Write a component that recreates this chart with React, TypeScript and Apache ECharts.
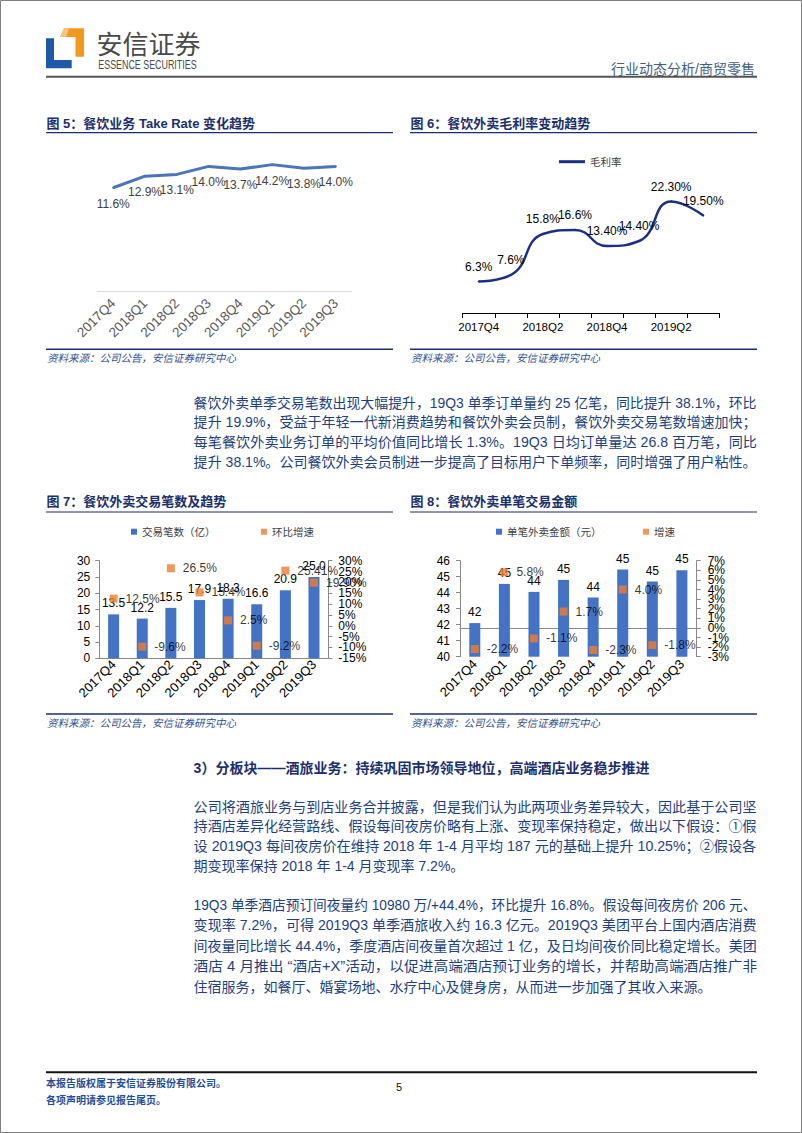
import React, { useEffect, useRef } from "react";
import * as echarts from "echarts";

// ---------- data ----------
const quarters = ["2017Q4", "2018Q1", "2018Q2", "2018Q3", "2018Q4", "2019Q1", "2019Q2", "2019Q3"];
const takeRate = [11.6, 12.9, 13.1, 14.0, 13.7, 14.2, 13.8, 14.0];
const grossMargin = [6.3, 7.6, 15.8, 16.6, 13.4, 14.4, 22.3, 19.5];
const grossMarginLabels = ["6.3%", "7.6%", "15.8%", "16.6%", "13.40%", "14.40%", "22.30%", "19.50%"];
const orders = [13.5, 12.2, 15.5, 17.9, 18.3, 16.6, 20.9, 25.0];
const ordersQoQ = [12.5, -9.6, 26.5, 15.4, 2.5, -9.2, 25.41, 19.9];
const ordersQoQLabels = ["12.5%", "-9.6%", "26.5%", "15.4%", "2.5%", "-9.2%", "25.41%", "19.90%"];
const ticket = [42.1, 44.55, 44.05, 44.8, 43.7, 45.45, 44.7, 45.4];
const ticketGrowth = [-2.2, 5.8, -1.1, 1.7, -2.3, 4.0, -1.8, null];
// right-axis tick labels (bottom to top)
const qoqTicks = ["-15%", "-10%", "-5%", "0%", "5%", "10%", "15%", "20%", "25%", "30%"];
const growthTicks = ["-3%", "-2%", "-1%", "0%", "1%", "2%", "3%", "4%", "5%", "6%", "7%"];

// ---------- texts ----------
const para1 = [
  "餐饮外卖单季交易笔数出现大幅提升，19Q3 单季订单量约 25 亿笔，同比提升 38.1%，环比",
  "提升 19.9%，受益于年轻一代新消费趋势和餐饮外卖会员制，餐饮外卖交易笔数增速加快；",
  "每笔餐饮外卖业务订单的平均价值同比增长 1.3%。19Q3 日均订单量达 26.8 百万笔，同比",
  "提升 38.1%。公司餐饮外卖会员制进一步提高了目标用户下单频率，同时增强了用户粘性。",
];
const heading3 = "3）分板块——酒旅业务：持续巩固市场领导地位，高端酒店业务稳步推进";
const para2 = [
  "公司将酒旅业务与到店业务合并披露，但是我们认为此两项业务差异较大，因此基于公司坚",
  "持酒店差异化经营路线、假设每间夜房价略有上涨、变现率保持稳定，做出以下假设：①假",
  "设 2019Q3 每间夜房价在维持 2018 年 1-4 月平均 187 元的基础上提升 10.25%；②假设各",
  "期变现率保持 2018 年 1-4 月变现率 7.2%。",
];
const para3 = [
  "19Q3 单季酒店预订间夜量约 10980 万/+44.4%，环比提升 16.8%。假设每间夜房价 206 元、",
  "变现率 7.2%，可得 2019Q3 单季酒旅收入约 16.3 亿元。2019Q3 美团平台上国内酒店消费",
  "间夜量同比增长 44.4%，季度酒店间夜量首次超过 1 亿，及日均间夜价同比稳定增长。美团",
  "酒店 4 月推出 “酒店+X”活动，以促进高端酒店预订业务的增长，并帮助高端酒店推广非",
  "住宿服务，如餐厅、婚宴场地、水疗中心及健身房，从而进一步加强了其收入来源。",
];

const FONT = "'Liberation Sans', 'Noto Sans CJK SC', sans-serif";
const NAVY = "#1b2f6b";
const BODY = "#223f7c";
const BLUE_BAR = "#4472c4";
const ORANGE = "#ed7d31";
const SOURCE = "资料来源：公司公告，安信证券研究中心";

export default function App() {
  const ref = useRef<HTMLDivElement>(null);

  useEffect(() => {
    document.body.style.margin = "0";
    const chart = echarts.init(ref.current!, null, { renderer: "svg" });
    const ctx = document.createElement("canvas").getContext("2d")!;
    const measure = (t: string, size: number, weight = "normal") => {
      ctx.font = `${weight} ${size}px ${FONT}`;
      return ctx.measureText(t).width;
    };

    const txt = (
      text: string,
      x: number,
      y: number,
      size: number,
      fill: string,
      opts: any = {}
    ) => ({
      type: "text",
      x,
      y,
      scaleX: opts.scaleX ?? 1,
      z: 10,
      style: {
        text,
        fontSize: size,
        fontFamily: opts.family ?? FONT,
        fontWeight: opts.weight ?? "normal",
        fontStyle: opts.italic ? "italic" : "normal",
        fill,
        align: opts.align ?? "left",
        textAlign: opts.align ?? "left",
        verticalAlign: "middle",
        textVerticalAlign: "middle",
      },
    });
    const hline = (x1: number, x2: number, y: number, stroke: string, w: number) => ({
      type: "line",
      shape: { x1, y1: y, x2, y2: y },
      style: { stroke, lineWidth: w },
    });

    const TEXT_L = 193.6;
    const TEXT_R = 757;
    const paraLines = (lines: string[], y0: number, step: number, justifyLast: boolean) =>
      lines.map((t, i) => {
        const last = i === lines.length - 1;
        const w = measure(t, 14);
        const sx = !last || justifyLast ? (TEXT_R - TEXT_L) / w : Math.min(1, (TEXT_R - TEXT_L) / w);
        return txt(t, TEXT_L, y0 + i * step, 14, BODY, { scaleX: sx });
      });

    const esW = measure("ESSENCE SECURITIES", 12);

    const graphic: any[] = [
      // page border
      {
        type: "rect",
        shape: { x: 0.5, y: 0.5, width: 801, height: 1132 },
        style: { fill: "none", stroke: "#808080", lineWidth: 1 },
        z: 20,
      },
      // logo
      {
        type: "polygon",
        shape: { points: [[46, 38.3], [54, 38.3], [54, 60], [71.7, 60], [71.7, 68.3], [46, 68.3]] },
        style: { fill: "#1d59a7" },
      },
      {
        type: "polygon",
        shape: { points: [[64, 28.3], [84, 28.3], [84, 56.7], [75.5, 56.7], [75.5, 37], [60, 37]] },
        style: { fill: "#f39a1e" },
      },
      {
        type: "polygon",
        shape: { points: [[64, 28.3], [69, 28.3], [66, 37], [60, 37]] },
        style: { fill: "#f8c37e" },
      },
      txt("安信证券", 96.5, 42, 26, "#4a4a4a", { family: "'Noto Sans CJK SC', sans-serif" }),
      txt("ESSENCE SECURITIES", 98.3, 64, 12, "#4a4a4a", { scaleX: 98.4 / esW }),
      txt("行业动态分析/商贸零售", 755, 68.5, 14, "#44607f", { align: "right" }),
      hline(46, 757, 76.7, "#555555", 2),

      // figure titles
      txt("图 5：餐饮业务 Take Rate 变化趋势", 46.5, 123.3, 13, NAVY, { weight: "bold" }),
      txt("图 6：餐饮外卖毛利率变动趋势", 410.5, 123.3, 13, NAVY, { weight: "bold" }),
      hline(46, 393, 132.7, NAVY, 1.2),
      hline(410, 757, 132.7, NAVY, 1.2),
      hline(46, 393, 349.3, NAVY, 1.6),
      hline(410, 757, 349.3, NAVY, 1.6),
      txt(SOURCE, 47, 358, 10.5, "#2f4f90", { italic: true }),
      txt(SOURCE, 411, 358, 10.5, "#2f4f90", { italic: true }),

      ...paraLines(para1, 402.5, 19.8, true),

      txt("图 7：餐饮外卖交易笔数及趋势", 46.5, 501.7, 13, NAVY, { weight: "bold" }),
      txt("图 8：餐饮外卖单笔交易金额", 410.5, 501.7, 13, NAVY, { weight: "bold" }),
      hline(46, 393, 512, NAVY, 1.2),
      hline(410, 757, 512, NAVY, 1.2),
      hline(46, 393, 714, NAVY, 1.6),
      hline(410, 757, 714, NAVY, 1.6),
      txt(SOURCE, 47, 723, 10.5, "#2f4f90", { italic: true }),
      txt(SOURCE, 411, 723, 10.5, "#2f4f90", { italic: true }),

      txt(heading3, TEXT_L, 768.3, 14, NAVY, { weight: "bold" }),
      ...paraLines(para2, 806.7, 19.8, false),
      ...paraLines(para3, 905, 20.5, false),

      // footer
      hline(46, 757, 1072.3, "#111111", 2),
      txt("本报告版权属于安信证券股份有限公司。", 46, 1083.3, 10, "#1f4e9a", { weight: "bold" }),
      txt("各项声明请参见报告尾页。", 46, 1100, 10, "#1f4e9a", { weight: "bold" }),
      txt("5", 399, 1087, 11, "#111111", { align: "center" }),
    ];

    const legendBase = (name: string, left: number, top: number, w: number, h: number) => ({
      data: [name],
      left,
      top,
      padding: 0,
      itemWidth: w,
      itemHeight: h,
      icon: "rect",
      itemGap: 0,
      textStyle: { fontSize: 10.5, color: "#404040", fontFamily: FONT, lineHeight: 14 },
    });

    const catAxis = (gridIndex: number, extra: any) => ({
      type: "category",
      gridIndex,
      data: quarters,
      boundaryGap: true,
      ...extra,
    });

    const valAxis = (gridIndex: number, extra: any) => ({
      type: "value",
      gridIndex,
      splitLine: { show: false },
      ...extra,
    });

    const axisGrey = { show: true, lineStyle: { color: "#898989", width: 1 } };
    const tickGrey = { show: true, length: 4, lineStyle: { color: "#898989" } };
    const lblBlack = { color: "#000", fontSize: 12, fontFamily: FONT };
    const yLbl = { ...lblBlack, showMinLabel: true, showMaxLabel: true };

    // visible right-hand label axes (category type so that every tick label is kept)
    const rightLabelAxis = (gridIndex: number, ticks: string[], margin: number) => ({
      type: "category",
      gridIndex,
      position: "right",
      data: ticks,
      boundaryGap: false,
      axisLine: axisGrey,
      axisTick: { ...tickGrey, interval: 0 },
      axisLabel: { ...lblBlack, interval: 0, margin },
      splitLine: { show: false },
    });

    const option: any = {
      animation: false,
      textStyle: { fontFamily: FONT },
      graphic,
      legend: [
        legendBase("毛利率", 559, 154.7, 26, 3),
        legendBase("交易笔数（亿）", 131, 524.7, 6, 6),
        legendBase("环比增速", 261, 524.7, 6, 6),
        legendBase("单笔外卖金额（元）", 496, 524.7, 6, 6),
        legendBase("增速", 643, 524.7, 6, 6),
      ],
      grid: [
        { left: 97.3, top: 148.6, width: 254.4, height: 142.4 },
        { left: 462.7, top: 188, width: 256.6, height: 125 },
        { left: 99.3, top: 560.7, width: 229, height: 97.6 },
        { left: 460, top: 560.7, width: 236.7, height: 96 },
      ],
      xAxis: [
        catAxis(0, {
          axisLine: { show: true, lineStyle: { color: "#d9d9d9" } },
          axisTick: { show: false },
          axisLabel: { rotate: 45, fontSize: 13.5, color: "#595959", margin: 10, interval: 0 },
        }),
        catAxis(1, {
          axisLine: { show: true, lineStyle: { color: "#000", width: 1 } },
          axisTick: { show: true, interval: 0, length: 5, lineStyle: { color: "#000" } },
          axisLabel: { fontSize: 11.5, color: "#000", margin: 8, interval: 1 },
        }),
        catAxis(2, {
          axisLine: axisGrey,
          axisTick: { show: false },
          axisLabel: { ...lblBlack, fontSize: 13, rotate: 45, margin: 4, interval: 0 },
        }),
        catAxis(3, {
          axisLine: axisGrey,
          axisTick: { show: false },
          axisLabel: { ...lblBlack, fontSize: 13, rotate: 45, margin: 5, interval: 0 },
        }),
      ],
      yAxis: [
        valAxis(0, { min: 0, max: 16, show: false }),
        valAxis(1, { min: 0, max: 25, show: false }),
        valAxis(2, {
          min: 0,
          max: 30,
          interval: 5,
          axisLine: axisGrey,
          axisTick: tickGrey,
          axisLabel: { ...yLbl, margin: 9 },
        }),
        valAxis(2, { position: "right", min: -15, max: 30, interval: 5, show: false }),
        valAxis(3, {
          min: 40,
          max: 46,
          interval: 1,
          axisLine: axisGrey,
          axisTick: tickGrey,
          axisLabel: { ...yLbl, margin: 10 },
        }),
        valAxis(3, { position: "right", min: -3, max: 7, interval: 1, show: false }),
        rightLabelAxis(2, qoqTicks, 10),
        rightLabelAxis(3, growthTicks, 11),
      ],
      series: [
        {
          name: "Take Rate",
          type: "line",
          xAxisIndex: 0,
          yAxisIndex: 0,
          data: takeRate,
          symbol: "circle",
          symbolSize: 2,
          showSymbol: true,
          lineStyle: { color: "#4a76b9", width: 3 },
          itemStyle: { color: "#4a76b9" },
          label: {
            show: true,
            position: "bottom",
            distance: 9,
            fontSize: 12,
            color: "#404040",
            formatter: (p: any) => p.value.toFixed(1) + "%",
          },
        },
        {
          name: "毛利率",
          type: "line",
          xAxisIndex: 1,
          yAxisIndex: 1,
          data: grossMargin,
          smooth: 0.5,
          symbol: "circle",
          symbolSize: 2,
          showSymbol: true,
          lineStyle: { color: "#1c2e85", width: 2.5 },
          itemStyle: { color: "#1c2e85" },
          label: {
            show: true,
            position: "top",
            distance: 8,
            fontSize: 12,
            color: "#000",
            formatter: (p: any) => grossMarginLabels[p.dataIndex],
          },
        },
        {
          name: "交易笔数（亿）",
          type: "bar",
          xAxisIndex: 2,
          yAxisIndex: 2,
          data: orders,
          barWidth: 11,
          itemStyle: { color: BLUE_BAR },
          label: {
            show: true,
            position: "top",
            distance: 5,
            ...lblBlack,
            formatter: (p: any) => p.value.toFixed(1),
          },
        },
        {
          name: "环比增速",
          type: "scatter",
          xAxisIndex: 2,
          yAxisIndex: 3,
          data: ordersQoQ,
          symbol: "rect",
          symbolSize: 8,
          z: 5,
          itemStyle: { color: ORANGE },
          label: {
            show: true,
            position: "right",
            distance: 8,
            ...lblBlack,
            formatter: (p: any) => ordersQoQLabels[p.dataIndex],
          },
        },
        {
          name: "单笔外卖金额（元）",
          type: "bar",
          xAxisIndex: 3,
          yAxisIndex: 4,
          data: ticket,
          barWidth: 11,
          itemStyle: { color: BLUE_BAR },
          label: {
            show: true,
            position: "top",
            distance: 5,
            ...lblBlack,
            formatter: (p: any) => String(Math.round(p.value)),
          },
        },
        {
          name: "增速",
          type: "scatter",
          xAxisIndex: 3,
          yAxisIndex: 5,
          data: ticketGrowth,
          symbol: "rect",
          symbolSize: 8,
          z: 5,
          itemStyle: { color: ORANGE },
          label: {
            show: true,
            position: "right",
            distance: 8,
            ...lblBlack,
            formatter: (p: any) => p.value.toFixed(1) + "%",
          },
        },
      ],
    };

    chart.setOption(option);
    return () => chart.dispose();
  }, []);

  return <div ref={ref} style={{ width: 802, height: 1133 }} />;
}
